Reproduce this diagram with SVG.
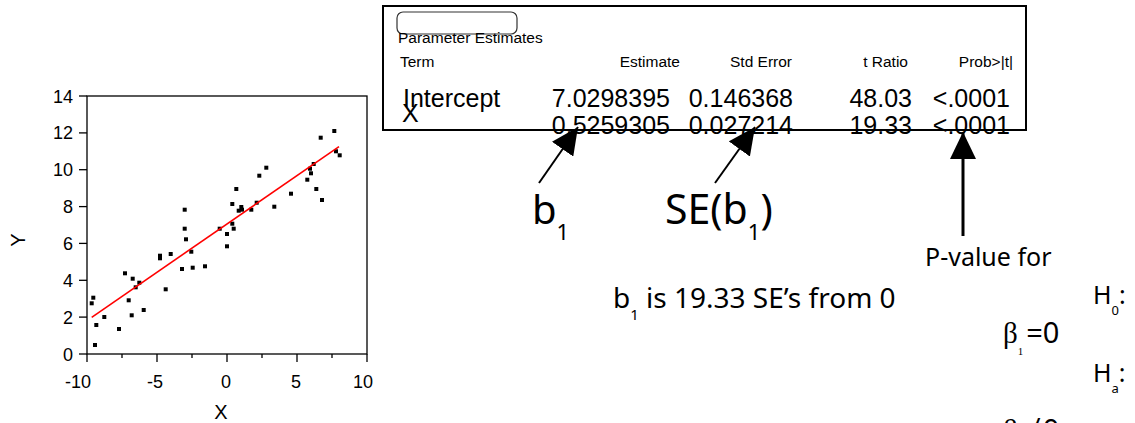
<svg xmlns="http://www.w3.org/2000/svg" width="1135" height="423" viewBox="0 0 1135 423">
<defs>
<style>
.ax{fill:none;stroke:#000;stroke-width:1.3}
.tk{stroke:#000;stroke-width:1.3}
.tl{font-family:"Liberation Sans",Arial,sans-serif;font-size:18px;fill:#000}
.fit{stroke:#f00;stroke-width:1.6;fill:none}
.hd{font-family:"Liberation Sans",Arial,sans-serif;font-size:15.5px;fill:#000}
.big{font-family:"Liberation Sans",Arial,sans-serif;font-size:25px;fill:#000}
.lbl{font-family:"Noto Sans","DejaVu Sans",sans-serif;fill:#000}
.sym{font-family:"Liberation Serif","Times New Roman",serif}
.arr{stroke:#000;stroke-width:2;fill:none}
.end{text-anchor:end}
.mid{text-anchor:middle}
</style>
<rect id="pt" x="-2" y="-2" width="4" height="4" fill="#000"/>
<marker id="ah" viewBox="0 0 27 26" refX="27" refY="13" markerWidth="27" markerHeight="26" markerUnits="userSpaceOnUse" orient="auto"><path d="M0,0 L27,13 L0,26 z" fill="#000"/></marker>
</defs>
<rect width="1135" height="423" fill="#fff"/>

<g id="plot">
<rect x="87" y="96" width="280" height="258" class="ax"/>
<g class="tk">
<line x1="79" y1="354" x2="87" y2="354"/><line x1="79" y1="317.1" x2="87" y2="317.1"/><line x1="79" y1="280.3" x2="87" y2="280.3"/><line x1="79" y1="243.4" x2="87" y2="243.4"/><line x1="79" y1="206.6" x2="87" y2="206.6"/><line x1="79" y1="169.7" x2="87" y2="169.7"/><line x1="79" y1="132.9" x2="87" y2="132.9"/><line x1="79" y1="96" x2="87" y2="96"/>
<line x1="87" y1="354" x2="87" y2="362"/><line x1="157" y1="354" x2="157" y2="362"/><line x1="227" y1="354" x2="227" y2="362"/><line x1="297" y1="354" x2="297" y2="362"/><line x1="367" y1="354" x2="367" y2="362"/>
<line x1="122" y1="354" x2="122" y2="358"/><line x1="192" y1="354" x2="192" y2="358"/><line x1="262" y1="354" x2="262" y2="358"/><line x1="332" y1="354" x2="332" y2="358"/>
</g>
<g class="tl end">
<text x="73" y="360.5">0</text><text x="73" y="323.6">2</text><text x="73" y="286.8">4</text><text x="73" y="249.9">6</text><text x="73" y="213.1">8</text><text x="73" y="176.2">10</text><text x="73" y="139.4">12</text><text x="73" y="102.5">14</text>
</g>
<g class="tl mid">
<text x="78" y="388">-10</text><text x="155" y="388">-5</text><text x="226" y="388">0</text><text x="296" y="388">5</text><text x="363" y="388">10</text>
</g>
<text class="tl mid" x="221" y="419" style="font-size:20px">X</text>
<text class="tl mid" transform="translate(25,240) rotate(-90)" style="font-size:20px">Y</text>
<g id="points">
<use href="#pt" x="91.7" y="303.3"/><use href="#pt" x="93.3" y="297.7"/><use href="#pt" x="96.3" y="325"/><use href="#pt" x="95" y="345"/><use href="#pt" x="104.3" y="317"/>
<use href="#pt" x="119" y="329"/><use href="#pt" x="125" y="273.3"/><use href="#pt" x="128.7" y="300.3"/><use href="#pt" x="131.7" y="315.3"/><use href="#pt" x="132.7" y="278.7"/>
<use href="#pt" x="135.7" y="287.3"/><use href="#pt" x="139.3" y="282.7"/><use href="#pt" x="143.7" y="310"/><use href="#pt" x="160" y="255.7"/><use href="#pt" x="160" y="258.3"/>
<use href="#pt" x="165.7" y="289.3"/><use href="#pt" x="170.7" y="254"/><use href="#pt" x="182" y="269"/><use href="#pt" x="184.7" y="209.7"/><use href="#pt" x="184.7" y="228.7"/>
<use href="#pt" x="186" y="239.3"/><use href="#pt" x="191.3" y="251.7"/><use href="#pt" x="192.7" y="267.7"/><use href="#pt" x="205" y="266.3"/><use href="#pt" x="219.7" y="228.7"/>
<use href="#pt" x="227" y="234"/><use href="#pt" x="227" y="246.3"/><use href="#pt" x="232.3" y="204"/><use href="#pt" x="232.3" y="223.7"/><use href="#pt" x="233.7" y="228.7"/>
<use href="#pt" x="236.3" y="189"/><use href="#pt" x="238.7" y="210.7"/><use href="#pt" x="241.3" y="207"/><use href="#pt" x="242" y="209.7"/><use href="#pt" x="251.3" y="209.7"/>
<use href="#pt" x="256.7" y="202.7"/><use href="#pt" x="259.3" y="175.7"/><use href="#pt" x="266.3" y="167.7"/><use href="#pt" x="274.3" y="206.7"/><use href="#pt" x="291" y="193.7"/>
<use href="#pt" x="307.3" y="179.7"/><use href="#pt" x="310" y="168.7"/><use href="#pt" x="311" y="173.3"/><use href="#pt" x="313.7" y="164"/><use href="#pt" x="316.3" y="189"/>
<use href="#pt" x="320.7" y="137.7"/><use href="#pt" x="322" y="200"/><use href="#pt" x="334.3" y="131"/><use href="#pt" x="336" y="151.3"/><use href="#pt" x="339.7" y="155.3"/>
</g>
<line class="fit" x1="91.7" y1="317.3" x2="339" y2="146.7"/>
</g>

<g id="table">
<rect x="397" y="12" width="120" height="22" rx="6" fill="none" stroke="#333" stroke-width="1.2"/>
<text class="hd" x="398" y="43">Parameter Estimates</text>
<text class="hd" x="400" y="67">Term</text>
<text class="hd end" x="680" y="67">Estimate</text>
<text class="hd end" x="792" y="67">Std Error</text>
<text class="hd end" x="908" y="67">t Ratio</text>
<text class="hd end" x="1013" y="67">Prob&gt;|t|</text>
<text class="big" x="403" y="107">Intercept</text>
<text class="big end" x="670" y="107">7.0298395</text>
<text class="big end" x="793" y="107">0.146368</text>
<text class="big end" x="912" y="107">48.03</text>
<text class="big end" x="1010" y="107">&lt;.0001</text>
<text class="big" x="402" y="122">X</text>
<text class="big end" x="670" y="134">0.5259305</text>
<text class="big end" x="793" y="134">0.027214</text>
<text class="big end" x="912" y="134">19.33</text>
<text class="big end" x="1010" y="134">&lt;.0001</text>
<rect x="383" y="6" width="643" height="124" fill="none" stroke="#000" stroke-width="2"/>
</g>

<g id="connectors">
<line class="arr" x1="539" y1="183" x2="578" y2="127" marker-end="url(#ah)"/>
<line class="arr" x1="715" y1="183" x2="755" y2="127" marker-end="url(#ah)"/>
<line class="arr" x1="963" y1="236" x2="963" y2="132" style="stroke-width:3" marker-end="url(#ah)"/>
</g>

<g id="label-b1"><text class="lbl" x="532" y="224" font-size="40">b<tspan font-size="22" dy="16">1</tspan></text></g>
<g id="label-se"><text class="lbl" x="665" y="224" font-size="41">SE(b<tspan font-size="22" dy="16">1</tspan><tspan dy="-16">)</tspan></text></g>
<g id="label-pvalue"><text class="lbl" x="925" y="266" font-size="25">P-value for</text></g>
<g id="label-tstat"><text class="lbl" x="613" y="308" font-size="28">b<tspan font-size="15" dy="12">1</tspan><tspan dy="-12"> is 19.33 SE’s from 0</tspan></text></g>
<g id="label-h0"><text class="lbl" x="1093" y="304" font-size="25">H<tspan font-size="13" dy="11">0</tspan><tspan dy="-11">:</tspan></text></g>
<g id="label-null"><text class="lbl" x="1003" y="343" font-size="29"><tspan class="sym" font-size="29">β</tspan><tspan class="sym" font-size="11" dy="12">1</tspan><tspan dy="-12" dx="3">=0</tspan></text></g>
<g id="label-ha"><text class="lbl" x="1093" y="382" font-size="25">H<tspan font-size="13" dy="11">a</tspan><tspan dy="-11">:</tspan></text></g>
<g id="label-alt"><text class="lbl" x="1003" y="440" font-size="29"><tspan class="sym" font-size="29">β</tspan><tspan class="sym" font-size="11" dy="12">1</tspan><tspan dy="-12" dx="3">≠0</tspan></text></g>
</svg>
